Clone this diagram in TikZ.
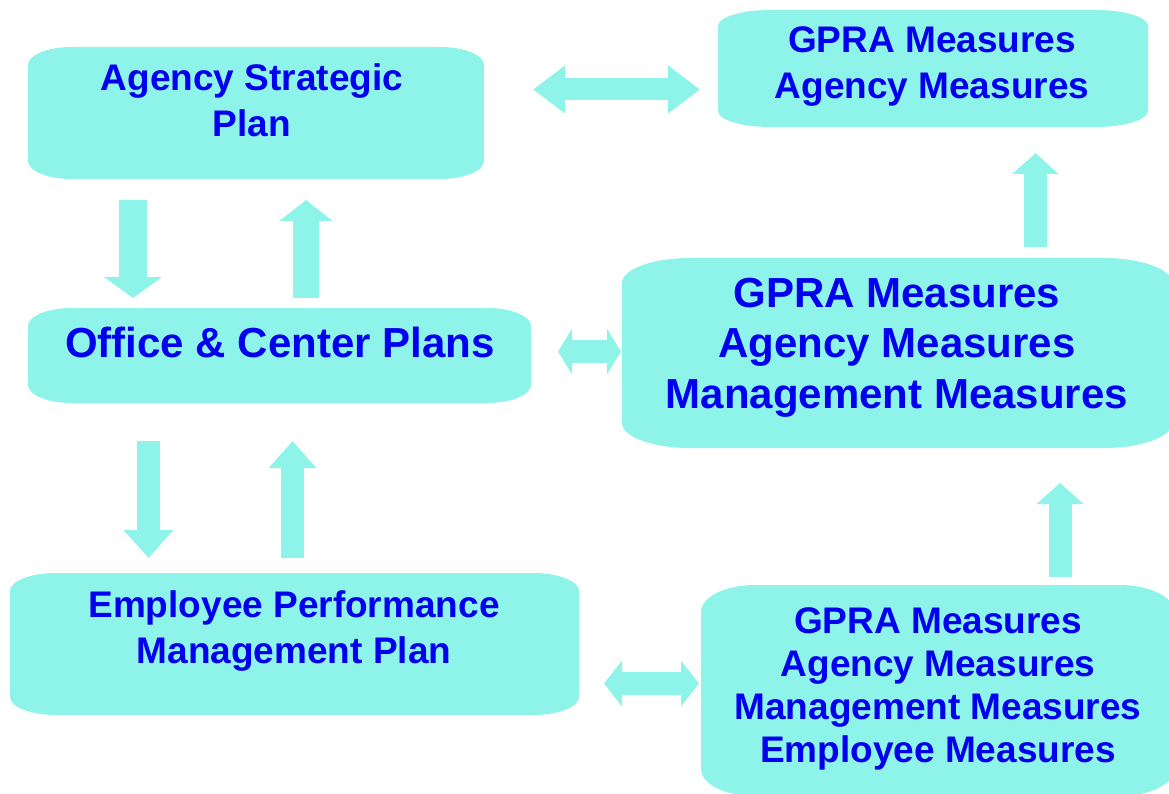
\documentclass[tikz,border=0pt]{standalone}
\usepackage{fontspec}
\setmainfont{Liberation Sans}
\usetikzlibrary{arrows.meta}
\definecolor{boxcyan}{RGB}{142,244,234}
\definecolor{txtblue}{RGB}{0,0,240}
\newcommand\ellbox[3]{%
  \fill[boxcyan] ([xshift=#2]#1.north west) -- ([xshift=-#2]#1.north east)
    arc[start angle=90,end angle=0,x radius=#2,y radius=#3]
    -- ([yshift=#3]#1.south east)
    arc[start angle=0,end angle=-90,x radius=#2,y radius=#3]
    -- ([xshift=#2]#1.south west)
    arc[start angle=270,end angle=180,x radius=#2,y radius=#3]
    -- ([yshift=-#3]#1.north west)
    arc[start angle=180,end angle=90,x radius=#2,y radius=#3] -- cycle;}
\tikzset{
  boxn/.style={rectangle, inner sep=0pt, outer sep=0pt, draw=none},
  blk/.style n args={3}{draw=boxcyan, line width=#1, -{Triangle[length=#3,width=#2]}},
  dblk/.style n args={3}{draw=boxcyan, line width=#1, {Triangle[length=#3,width=#2]}-{Triangle[length=#3,width=#2]}},
  txt/.style={inner sep=0pt, anchor=base, text=txtblue},
}
\begin{document}
\begin{tikzpicture}[x=1pt,y=-1pt]
\useasboundingbox (0,0) rectangle (1169,794);
% box frames
\node[boxn, minimum width=456pt, minimum height=132pt] (b1) at (256,113) {};
\node[boxn, minimum width=430pt, minimum height=117pt] (b2) at (933,68.5) {};
\node[boxn, minimum width=503pt, minimum height=95pt] (ofc) at (279.5,355.5) {};
\node[boxn, minimum width=550pt, minimum height=190pt] (mid) at (897,353) {};
\node[boxn, minimum width=569pt, minimum height=142pt] (emp) at (294.5,644) {};
\node[boxn, minimum width=473pt, minimum height=211pt] (bot) at (937.5,690.5) {};
\ellbox{b1}{44pt}{18pt}
\ellbox{b2}{52pt}{16pt}
\ellbox{ofc}{44pt}{18pt}
\ellbox{mid}{68pt}{25pt}
\ellbox{emp}{46pt}{18pt}
\ellbox{bot}{54pt}{27pt}
% arrows
\draw[blk={28pt}{57pt}{21pt}, shorten <=21pt, shorten >=10pt]
  ([xshift=-123pt]b1.south) -- ([xshift=-146.5pt]ofc.north);
\draw[blk={26pt}{52pt}{21pt}, shorten <=10pt, shorten >=21pt]
  ([xshift=26.5pt]ofc.north) -- ([xshift=50pt]b1.south);
\draw[blk={23pt}{48pt}{28pt}, shorten <=38pt, shorten >=15pt]
  ([xshift=-131pt]ofc.south) -- ([xshift=-146pt]emp.north);
\draw[blk={23pt}{46pt}{27pt}, shorten <=15pt, shorten >=38pt]
  ([xshift=-2pt]emp.north) -- ([xshift=13pt]ofc.south);
\draw[blk={23pt}{46pt}{21pt}, shorten <=8pt, shorten >=35pt]
  ([xshift=122.5pt]bot.north) -- ([xshift=163pt]mid.south);
\draw[blk={23pt}{45pt}{21pt}, shorten <=11pt, shorten >=26pt]
  ([xshift=138.5pt]mid.north) -- ([xshift=102.5pt]b2.south);
\draw[dblk={22pt}{46pt}{32pt}, shorten <=49pt, shorten >=18pt]
  ([yshift=23.5pt]b1.east) -- ([yshift=-21pt]b2.west);
\draw[dblk={23pt}{45pt}{14pt}, shorten <=27pt, shorten >=1pt]
  ([yshift=4pt]ofc.east) -- ([yshift=1.5pt]mid.west);
\draw[dblk={23pt}{45pt}{18pt}, shorten <=25pt, shorten >=2pt]
  ([yshift=-39.5pt]emp.east) -- ([yshift=7pt]bot.west);
% texts
\node[txt, font=\fontsize{37}{46}\selectfont\bfseries] (t1) at (252,91)
  {\begin{tabular}[t]{@{}c@{}}Agency Strategic\\Plan\end{tabular}};
\node[txt, font=\fontsize{37}{46}\selectfont\bfseries] (t2) at (932,53)
  {\begin{tabular}[t]{@{}c@{}}GPRA Measures\\Agency Measures\end{tabular}};
\node[txt, font=\fontsize{42}{50.5}\selectfont\bfseries] (t3) at (280,357)
  {Office \& Center Plans};
\node[txt, font=\fontsize{42}{50.5}\selectfont\bfseries] (t4) at (897,307)
  {\begin{tabular}[t]{@{}c@{}}GPRA Measures\\Agency Measures\\Management Measures\end{tabular}};
\node[txt, font=\fontsize{37}{46}\selectfont\bfseries] (t5) at (294,617)
  {\begin{tabular}[t]{@{}c@{}}Employee Performance\\Management Plan\end{tabular}};
\node[txt, font=\fontsize{37}{43.3}\selectfont\bfseries] (t6) at (938,633)
  {\begin{tabular}[t]{@{}c@{}}GPRA Measures\\Agency Measures\\Management Measures\\Employee Measures\end{tabular}};
\end{tikzpicture}
\end{document}
